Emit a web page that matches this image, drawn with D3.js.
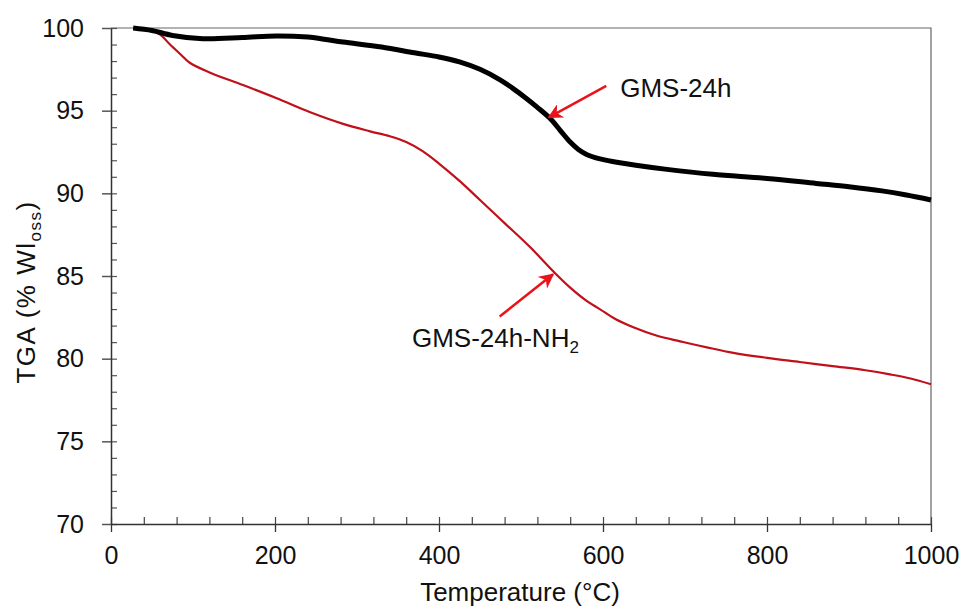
<!DOCTYPE html>
<html>
<head>
<meta charset="utf-8">
<script src="https://cdn.jsdelivr.net/npm/d3@7"></script>
<style>
    body { margin: 0; background: #fff; }
    text { font-family: "Liberation Sans", Arial, sans-serif; fill: #111; }
</style>
</head>
<body>
<div id="chart"></div>
<script>
(function(){
    'use strict';

    // TGA curves (temperature in °C, weight in %)
    var gmsTemp = [27, 50, 75, 112, 160, 202, 240, 260, 283, 330, 370, 400, 425, 450, 475, 490, 505, 520, 535, 548, 560, 570, 580, 595, 615, 640, 678, 734, 800, 860, 900, 940, 970, 1000];
    var gmsWeight = [100, 99.85, 99.55, 99.35, 99.42, 99.52, 99.45, 99.32, 99.15, 98.85, 98.5, 98.25, 97.95, 97.5, 96.85, 96.35, 95.8, 95.2, 94.55, 93.8, 93.1, 92.65, 92.35, 92.1, 91.9, 91.7, 91.45, 91.15, 90.9, 90.6, 90.4, 90.15, 89.9, 89.6];

    var nh2Temp = [27, 48, 60, 72, 85, 96, 121, 161, 202, 243, 283, 316, 340, 360, 380, 400, 425, 450, 480, 511, 541, 560, 580, 596, 615, 637, 665, 694, 759, 800, 840, 880, 920, 950, 975, 1000];
    var nh2Weight = [100, 99.9, 99.6, 99.0, 98.4, 97.9, 97.3, 96.55, 95.75, 94.9, 94.2, 93.75, 93.45, 93.1, 92.55, 91.8, 90.75, 89.6, 88.2, 86.75, 85.2, 84.3, 83.5, 83.0, 82.4, 81.9, 81.4, 81.05, 80.35, 80.05, 79.8, 79.55, 79.3, 79.05, 78.8, 78.45];

    var xTicks = [0, 200, 400, 600, 800, 1000];
    var yTicks = [70, 75, 80, 85, 90, 95, 100];

    var width = 963, height = 606,
        left = 111, top = 28, right = 931, bottom = 524;

    var svg = d3.select('#chart').append('svg')
        .attr('width', width)
        .attr('height', height);

    var x = d3.scaleLinear().domain([0, 1000]).range([left, right]);
    var y = d3.scaleLinear().domain([70, 100]).range([bottom, top]);

    var xMinor = d3.range(0, 1001, 40);
    var yMinor = d3.range(70, 100.5, 1);

    // frame (top and right)
    svg.append('path')
        .attr('d', 'M' + left + ',' + top + 'H' + right + 'V' + bottom)
        .attr('fill', 'none')
        .attr('stroke', '#666')
        .attr('stroke-width', 1.2);

    // inner ticks (all)
    svg.append('g')
        .attr('transform', 'translate(' + left + ',0)')
        .call(d3.axisRight(y).tickValues(yMinor).tickSize(6).tickFormat(''))
        .call(function(g) { g.select('.domain').remove(); g.selectAll('line').attr('stroke', '#555').attr('stroke-width', 1.2); });
    svg.append('g')
        .attr('transform', 'translate(0,' + bottom + ')')
        .call(d3.axisTop(x).tickValues(xMinor).tickSize(7).tickFormat(''))
        .call(function(g) { g.select('.domain').remove(); g.selectAll('line').attr('stroke', '#444').attr('stroke-width', 1.2); });

    // outer major ticks + labels
    var yAxis = svg.append('g')
        .attr('transform', 'translate(' + left + ',0)')
        .call(d3.axisLeft(y).tickValues(yTicks).tickSize(9).tickSizeOuter(0).tickPadding(18).tickFormat(d3.format('d')));
    yAxis.select('.domain').attr('stroke', '#333').attr('stroke-width', 1.5);
    yAxis.selectAll('line').attr('stroke', '#555').attr('stroke-width', 1.5);
    yAxis.selectAll('text').style('font-size', '25px').attr('fill', '#111');

    var xAxis = svg.append('g')
        .attr('transform', 'translate(0,' + bottom + ')')
        .call(d3.axisBottom(x).tickValues(xTicks).tickSize(8).tickSizeOuter(0).tickPadding(14).tickFormat(d3.format('d')));
    xAxis.select('.domain').attr('stroke', '#333').attr('stroke-width', 1.5);
    xAxis.selectAll('line').attr('stroke', '#333').attr('stroke-width', 1.3);
    xAxis.selectAll('text').style('font-size', '25px').attr('fill', '#111');

    // axis titles
    svg.append('text')
        .attr('x', (left + right) / 2 - 1)
        .attr('y', 601)
        .attr('text-anchor', 'middle')
        .style('font-size', '26px')
        .text('Temperature (°C)');

    var yt = svg.append('text')
        .attr('transform', 'translate(35,292) rotate(-90)')
        .attr('text-anchor', 'middle')
        .style('font-size', '26px')
        .style('letter-spacing', '1.5px');
    yt.append('tspan').text('TGA (% Wl');
    yt.append('tspan').attr('dy', 6).style('font-size', '17px').text('oss');
    yt.append('tspan').attr('dy', -6).text(')');

    // curves
    var line = d3.line()
        .x(function(d) { return x(d[0]); })
        .y(function(d) { return y(d[1]); })
        .curve(d3.curveCatmullRom.alpha(0.5));

    var nh2 = d3.zip(nh2Temp, nh2Weight);
    var gms = d3.zip(gmsTemp, gmsWeight);

    svg.append('path').datum(nh2)
        .attr('d', line)
        .attr('fill', 'none')
        .attr('stroke', '#c0101a')
        .attr('stroke-width', 2.2);

    svg.append('path').datum(gms)
        .attr('d', line)
        .attr('fill', 'none')
        .attr('stroke', '#000')
        .attr('stroke-width', 5)
        .attr('stroke-linejoin', 'round');

    // annotation arrows (data coords: tail -> tip)
    svg.append('defs').append('marker')
        .attr('id', 'head')
        .attr('viewBox', '0 0 10 10')
        .attr('refX', 9).attr('refY', 5)
        .attr('markerWidth', 6).attr('markerHeight', 6)
        .attr('markerUnits', 'strokeWidth')
        .attr('orient', 'auto')
        .append('path')
        .attr('d', 'M0,0L10,5L0,10L3,5Z')
        .attr('fill', '#e8141c');

    var arrows = [
        [[604, 96.5], [534, 94.6]],
        [[474, 82.55], [539, 85.1]]
    ];
    svg.selectAll('.arrow').data(arrows).enter()
        .append('line')
        .attr('class', 'arrow')
        .attr('x1', function(d) { return x(d[0][0]); })
        .attr('y1', function(d) { return y(d[0][1]); })
        .attr('x2', function(d) { return x(d[1][0]); })
        .attr('y2', function(d) { return y(d[1][1]); })
        .attr('stroke', '#e8141c')
        .attr('stroke-width', 2.5)
        .attr('marker-end', 'url(#head)');

    svg.append('text')
        .attr('x', x(621)).attr('y', y(95.83))
        .style('font-size', '26px')
        .text('GMS-24h');

    var lab = svg.append('text')
        .attr('x', x(367)).attr('y', y(80.7))
        .style('font-size', '26px');
    lab.append('tspan').text('GMS-24h-NH');
    lab.append('tspan').attr('dy', 6).style('font-size', '17px').text('2');
})()
</script>
</body>
</html>
